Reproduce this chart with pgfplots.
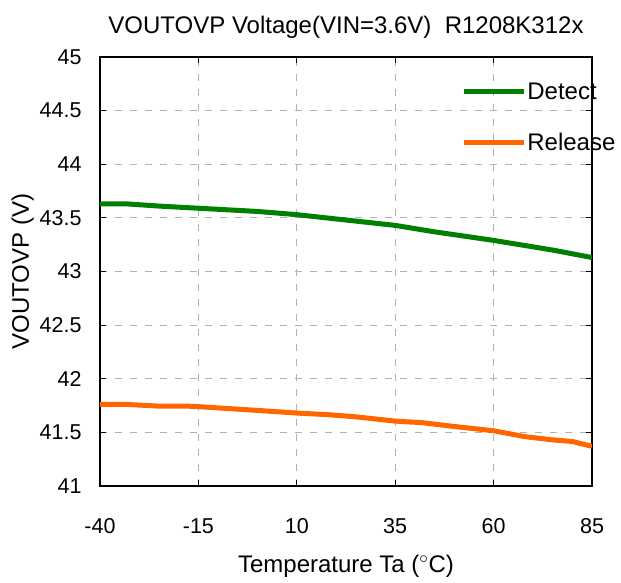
\documentclass[border=0pt]{standalone}
\usepackage{pgfplots}
\pgfplotsset{compat=1.18}
\usepackage{fontspec}
\setmainfont{Liberation Sans}
\definecolor{dgreen}{RGB}{0,128,0}
\definecolor{dorange}{RGB}{255,102,0}
\begin{document}
\begin{tikzpicture}
\path[use as bounding box] (-100pt,-96pt) rectangle (521pt,486pt);
\begin{axis}[
  scale only axis, width=492pt, height=429pt,
  xmin=-40, xmax=85, ymin=41, ymax=45,
  xtick={-40,-15,10,35,60,85},
  ytick={41,41.5,42,42.5,43,43.5,44,44.5,45},
  yticklabels={41,41.5,42,42.5,43,43.5,44,44.5,45},
  /pgf/number format/assume math mode=true,
  tick label style={font=\fontsize{21.5}{23}\selectfont},
  xticklabel style={yshift=-29pt},
  yticklabel style={xshift=-15pt},
  tick align=inside, major tick length=6pt,
  tick style={black, line width=0.8pt},
  axis line style={black, line width=1.4pt},
  grid=major,
  grid style={gray!60, dash pattern=on 7pt off 8pt, line width=0.8pt},
  title={VOUTOVP Voltage(VIN=3.6V)\ \ R1208K312x},
  title style={font=\fontsize{24}{26}\selectfont, yshift=9pt},
  xlabel={Temperature Ta ($^{\circ}$C)},
  ylabel={VOUTOVP (V)},
  label style={font=\fontsize{24}{26}\selectfont},
  xlabel style={at={(axis description cs:0.5,0)}, anchor=center, yshift=-80pt},
  ylabel style={at={(axis description cs:-0.157,0.5)}, anchor=center},
  legend style={draw=none, fill=none, at={(0.734,0.945)}, anchor=north west,
    font=\fontsize{24}{26}\selectfont, row sep=28pt, inner sep=0pt,
    nodes={inner xsep=1pt}},
  legend cell align=left,
  legend image code/.code={\draw[#1, line width=5pt] (0pt,0pt) -- (60pt,0pt);},
]
\addplot[dgreen, line width=5pt] coordinates {
(-40,43.63) (-33,43.63) (-25,43.61) (-15,43.59) (0,43.56) (10,43.53) (15,43.51)
(25,43.47) (35,43.43) (45,43.37) (60,43.29) (75,43.20) (85,43.13)};
\addlegendentry{Detect}
\addplot[dorange, line width=5pt] coordinates {
(-40,41.76) (-33,41.76) (-25,41.745) (-18,41.745) (-15,41.74) (0,41.705) (10,41.68)
(18,41.665) (25,41.645) (35,41.605) (42,41.59) (50,41.555) (60,41.515) (68,41.46)
(75,41.43) (80,41.415) (85,41.37)};
\addlegendentry{Release}
\end{axis}
\end{tikzpicture}
\end{document}
